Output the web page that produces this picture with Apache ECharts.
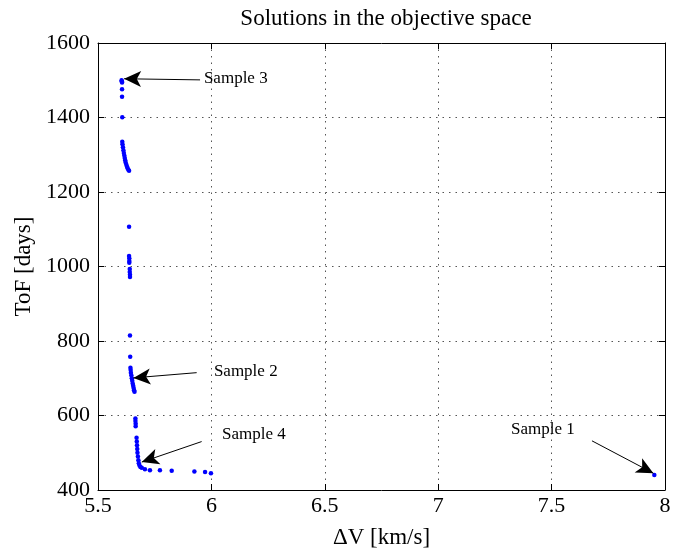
<!DOCTYPE html>
<html>
<head>
<meta charset="utf-8">
<script src="https://cdn.jsdelivr.net/npm/echarts@6/dist/echarts.min.js"></script>
<style>html,body{margin:0;padding:0;background:#fff}#c{width:674px;height:554px}</style>
</head>
<body>
<div id="c"></div>
<script>
// Delta V [km/s]
const dvValues = [
  5.604, 5.605, 5.606, 5.606, 5.606, 5.607,
  5.607, 5.608, 5.610, 5.612, 5.614, 5.616, 5.618, 5.620, 5.622, 5.625, 5.628, 5.631, 5.634, 5.637,
  5.637, 5.637, 5.638, 5.638, 5.638, 5.640, 5.640, 5.641, 5.641,
  5.641, 5.642, 5.643, 5.644, 5.645, 5.647, 5.649, 5.651, 5.653, 5.655, 5.657, 5.659, 5.661,
  5.665, 5.665, 5.666, 5.666,
  5.670, 5.671, 5.672, 5.673, 5.674, 5.676, 5.678, 5.680, 5.683, 5.687,
  5.693, 5.707, 5.729, 5.773, 5.825, 5.925, 5.972, 5.998,
  7.953
];
// Time of flight [days]
const tofValues = [
  1500, 1497, 1494, 1476, 1456, 1401,
  1335, 1328, 1320, 1312, 1305, 1298, 1291, 1285, 1279, 1273, 1268, 1263, 1260, 1257,
  1107, 1028, 1022, 1015, 1010, 993, 985, 978, 972,
  815, 758, 728, 722, 715, 708, 700, 693, 686, 680, 674, 668, 664,
  592, 585, 578, 571,
  540, 530, 520, 510, 500, 490, 480, 472, 466, 462,
  460, 456, 453, 453, 452, 450, 448, 445,
  440
];
const xTicks = [5.5, 6, 6.5, 7, 7.5, 8];
const yTicks = [400, 600, 800, 1000, 1200, 1400, 1600];
// annotations: label, label anchor (x,y), arrow tail (x,y), arrow tip (x,y)
const annLabels = ['Sample 3', 'Sample 2', 'Sample 4', 'Sample 1'];
const annTextX = [5.967, 6.011, 6.047, 7.321];
const annTextY = [1504, 719, 548, 562];
const annTailX = [5.950, 5.935, 5.957, 7.678];
const annTailY = [1501, 715, 530, 532];
const annTipX = [5.615, 5.656, 5.693, 7.949];
const annTipY = [1504, 701, 475, 445];

const FONT = '"Liberation Serif", "Times New Roman", serif';
const points = dvValues.map((v, i) => [v, tofValues[i]]);

const chart = echarts.init(document.getElementById('c'), null, {renderer: 'canvas'});
const gridLine = {show: true, lineStyle: {color: '#555', type: [1.5, 5], width: 1}};
const axisLine = {show: true, lineStyle: {color: '#000', width: 1}};
const tick = {show: true, inside: true, length: 6, lineStyle: {color: '#000'}};

chart.setOption({
  animation: false,
  backgroundColor: '#fff',
  title: {
    text: 'Solutions in the objective space',
    left: 381, top: 2, textAlign: 'center',
    textStyle: {fontFamily: FONT, fontSize: 23, fontWeight: 'normal', color: '#000'}
  },
  grid: {left: 98, right: 9, top: 43, bottom: 62, containLabel: false},
  xAxis: [{
    type: 'value', min: xTicks[0], max: xTicks[xTicks.length - 1], interval: 0.5,
    name: 'ΔV [km/s]', nameLocation: 'middle', nameGap: 36,
    nameTextStyle: {fontFamily: FONT, fontSize: 23, color: '#000'},
    axisLine, axisTick: tick, splitLine: gridLine,
    axisLabel: {fontFamily: FONT, fontSize: 22, color: '#000', margin: 5, formatter: v => String(v)}
  }, {
    type: 'value', position: 'top', min: xTicks[0], max: xTicks[xTicks.length - 1], interval: 0.5,
    axisLine, axisTick: tick, splitLine: {show: false}, axisLabel: {show: false}
  }],
  yAxis: [{
    type: 'value', min: yTicks[0], max: yTicks[yTicks.length - 1], interval: 200,
    name: 'ToF [days]', nameLocation: 'middle', nameGap: 62, nameRotate: 90,
    nameTextStyle: {fontFamily: FONT, fontSize: 23, color: '#000'},
    axisLine, axisTick: tick, splitLine: gridLine,
    axisLabel: {fontFamily: FONT, fontSize: 22, color: '#000', margin: 8, formatter: v => String(v)}
  }, {
    type: 'value', position: 'right', min: yTicks[0], max: yTicks[yTicks.length - 1], interval: 200,
    axisLine, axisTick: tick, splitLine: {show: false}, axisLabel: {show: false}
  }],
  series: [{
    type: 'scatter',
    data: points,
    symbol: 'circle',
    symbolSize: 4.5,
    itemStyle: {color: '#0000ff', opacity: 1},
    z: 3
  }, {
    type: 'scatter',
    data: [],
    silent: true,
    markLine: {
      silent: true,
      animation: false,
      symbol: ['none', 'arrow'],
      symbolSize: [10, 16],
      lineStyle: {color: '#000', width: 1, type: 'solid'},
      itemStyle: {color: '#000'},
      label: {show: false},
      emphasis: {disabled: true},
      data: annLabels.map((t, i) => [
        {coord: [annTailX[i], annTailY[i]], symbol: 'none'},
        {coord: [annTipX[i], annTipY[i]], symbol: 'arrow', symbolSize: [12, 17], itemStyle: {color: '#000'}}
      ])
    },
    markPoint: {
      silent: true,
      symbol: 'circle',
      symbolSize: 0,
      label: {
        show: true, position: [0, 0], align: 'left', verticalAlign: 'middle',
        fontFamily: FONT, fontSize: 17, color: '#000',
        formatter: p => p.name
      },
      data: annLabels.map((t, i) => ({name: t, coord: [annTextX[i], annTextY[i]]}))
    }
  }]
});
</script>
</body>
</html>
